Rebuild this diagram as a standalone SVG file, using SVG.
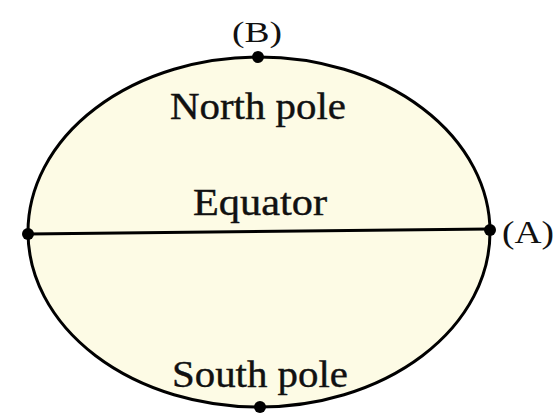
<svg xmlns="http://www.w3.org/2000/svg" width="557" height="413" viewBox="0 0 557 413">
<style>
.t{font-family:"Liberation Serif","DejaVu Serif",serif;fill:#111;stroke:#111;stroke-width:0.4;}
.lbl{font-family:"Liberation Serif","DejaVu Serif",serif;fill:#111;}
.dot{fill:#000;}
</style>
<rect width="557" height="413" fill="#fff"/>
<g id="ellipse">
<ellipse cx="259" cy="232" rx="231" ry="175" fill="#fdfbe5" stroke="#000" stroke-width="3"/>
</g>
<g id="connectors">
<line x1="28" y1="234" x2="490" y2="229" stroke="#000" stroke-width="3"/>
</g>
<g id="pointB"><circle class="dot" cx="258" cy="57" r="6"/><text class="lbl" x="232" y="42" font-size="30" textLength="50" lengthAdjust="spacingAndGlyphs">(B)</text></g>
<g id="pointA"><circle class="dot" cx="490" cy="230" r="6"/><text class="lbl" x="502" y="243" font-size="32" textLength="52" lengthAdjust="spacingAndGlyphs">(A)</text></g>
<g id="pointL"><circle class="dot" cx="28" cy="234" r="6"/></g>
<g id="pointS"><circle class="dot" cx="260" cy="407" r="6"/></g>
<g id="north"><text class="t" x="170" y="119" font-size="38" textLength="176" lengthAdjust="spacingAndGlyphs">North pole</text></g>
<g id="equator"><text class="t" x="193" y="215" font-size="38" textLength="134" lengthAdjust="spacingAndGlyphs">Equator</text></g>
<g id="south"><text class="t" x="172" y="387" font-size="38" textLength="176" lengthAdjust="spacingAndGlyphs">South pole</text></g>
</svg>
